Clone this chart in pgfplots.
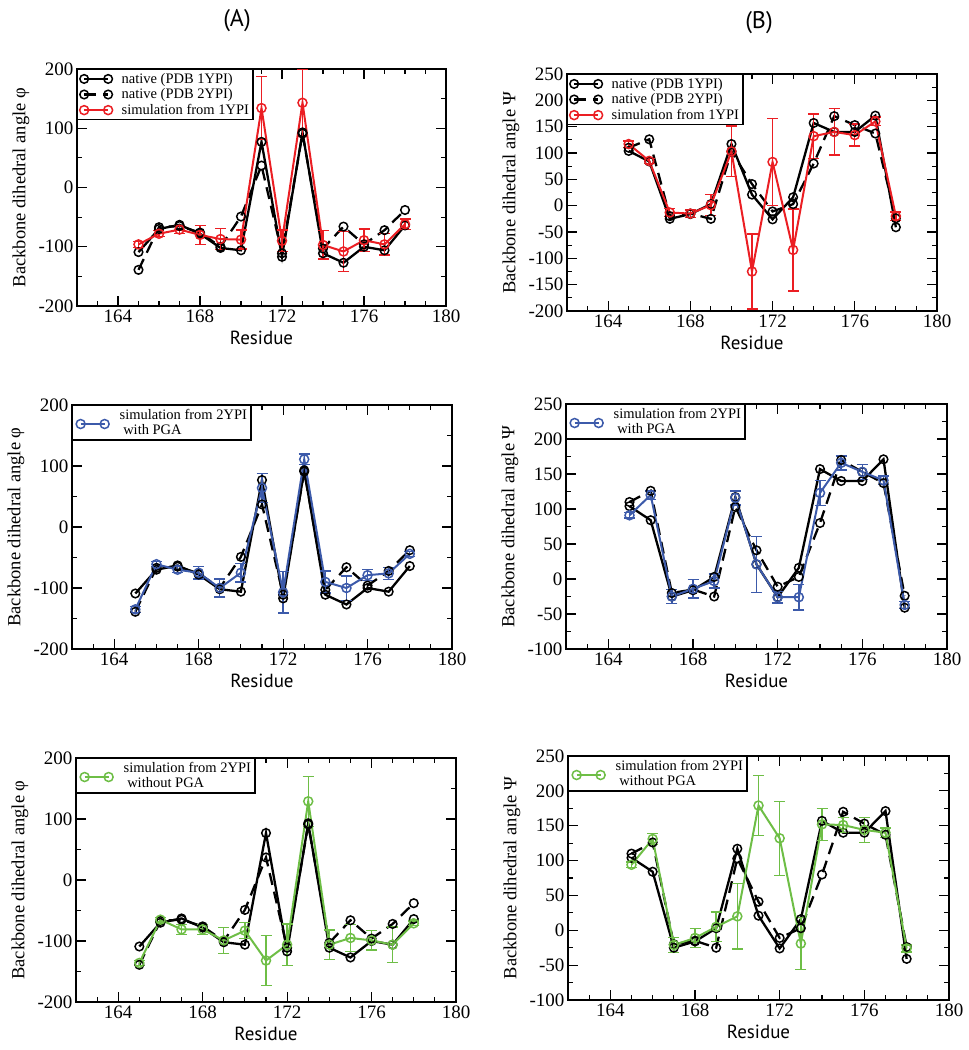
\documentclass[border=0pt]{standalone}
\usepackage{fontspec}
\setmainfont{Liberation Serif}
\newfontfamily\sansf{PT Sans}
\usepackage{pgfplots}
\usepackage{pgfplotstable}
\pgfplotsset{compat=1.18}

\definecolor{simred}{RGB}{235,30,35}
\definecolor{simblue}{RGB}{60,90,170}
\definecolor{simgreen}{RGB}{110,190,70}

% native structures
\pgfplotstableread{
x    phi   psi
165  -109  104
166  -70   84
167  -63   -25
168  -78   -16
169  -102  3
170  -106  117
171  77    21
172  -117  -26
173  93    16
174  -111  157
175  -127  140
176  -100  140
177  -106  171
178  -64   -41
}\natA
\pgfplotstableread{
x    phi   psi
165  -139  110
166  -67   126
167  -65   -20
168  -76   -15
169  -100  -25
170  -49   103
171  37    41
172  -111  -11
173  91    3
174  -103  80
175  -66   170
176  -96   153
177  -72   137
178  -38   -24
}\natB
% simulation from 1YPI
\pgfplotstableread{
x    phi   ephi  psi   epsi
165  -96   5     117   6
166  -78   5     85    5
167  -71   7     -13   8
168  -80   16    -15   7
169  -87   18    1     20
170  -88   16    103   48
171  134   53    -125  71
172  -90   18    83    83
173  143   57    -84   78
174  -97   24    132   42
175  -108  34    140   44
176  -89   19    134   21
177  -96   18    160   8
178  -62   9     -20   8
}\simA
% simulation from 2YPI with PGA
\pgfplotstableread{
x    phi   ephi  psi   epsi
165  -135  5     91    4
166  -61   4     120   6
167  -70   5     -25   10
168  -75   10    -14   13
169  -100  15    -3    10
170  -75   15    116   10
171  64    24    21    40
172  -107  34    -26   8
173  111   9     -26   18
174  -90   18    123   18
175  -100  20    166   10
176  -79   9     153   11
177  -76   10    141   6
178  -44   4     -37   5
}\simB
% simulation from 2YPI without PGA
\pgfplotstableread{
x    phi   ephi  psi   epsi
165  -136  4     94    4
166  -65   4     131   8
167  -81   8     -21   11
168  -81   8     -11   14
169  -99   21    5     21
170  -83   13    20    47
171  -132  41    179   43
172  -106  34    132   53
173  129   41    -19   37
174  -106  24    152   23
175  -95   22    151   11
176  -99   16    144   18
177  -106  29    140   7
178  -71   4     -26   5
}\simC

\pgfplotsset{
  panel/.style={
    scale only axis,
    xmin=162, xmax=180,
    xtick={164,168,...,180},
    minor xtick={162,...,180},
    tick align=inside,
    major tick length=10pt,
    minor tick length=5pt,
    axis line style={line width=1.4pt},
    every tick/.style={black, line width=1.2pt},
    /pgf/number format/assume math mode=true,
    ticklabel style={font=\fontsize{19}{21}\selectfont},
    xlabel={Residue},
    every axis x label/.style={at={(axis description cs:0.5,0)}, yshift=-32pt, anchor=center,
      font=\sansf\fontsize{19}{21}\selectfont},
    every axis y label/.style={at={(axis description cs:0,0.5)}, xshift=-56pt, rotate=90, anchor=center,
      font=\fontsize{18.5}{20}\selectfont},
    legend style={at={(0,1)}, anchor=north west, draw=black, line width=1.3pt, fill=white,
      font=\fontsize{14.5}{16}\selectfont, inner xsep=2pt, inner ysep=2pt, row sep=1pt,
      nodes={inner ysep=1.5pt},
      /tikz/every odd column/.append style={column sep=7pt}},
    legend cell align=left,
    legend image code/.code={\draw[##1] plot coordinates {(2pt,0pt) (26pt,0pt)};},
  },
  % sample centred between the two text lines
  tworow/.style={
    legend image code/.code={\path (-3pt,0pt) (31pt,0pt);
      \draw[##1, overlay, yshift=-9pt] plot coordinates {(2pt,0pt) (26pt,0pt)};}},
  phipanel/.style={panel, ymin=-200, ymax=200, ytick={-200,-100,...,200}, minor ytick={-200,-150,...,200},
    ylabel={Backbone dihedral angle φ}},
  psipanel/.style={panel, ytick={-200,-150,...,250}, minor ytick={-200,-175,...,250},
    ylabel={Backbone dihedral angle Ψ}},
  nat1/.style={black, line width=2.3pt, mark=o, mark size=4.3pt, mark options={solid, line width=1.5pt}},
  nat2/.style={nat1, dash pattern=on 12pt off 7pt},
  sim/.style={line width=2pt, mark=o, mark size=4.5pt, mark options={solid, line width=1.5pt},
    error bars/.cd, y dir=both, y explicit,
    error bar style={line width=1.4pt, solid},
    error mark options={rotate=90, mark size=5.5pt, line width=1.4pt}},
}

\begin{document}
\begin{tikzpicture}
\path[use as bounding box] (0pt,0pt) rectangle (969pt,-1050pt);

\node[font=\sansf\fontsize{24}{28}\selectfont] at (237pt,-21pt) {(A)};
\node[font=\sansf\fontsize{24}{28}\selectfont] at (759pt,-23pt) {(B)};

% ---- row 1, phi
\begin{axis}[phipanel, at={(77pt,-306pt)}, anchor=south west, width=369pt, height=237pt]
  \addplot[nat1] table[x=x, y=phi] {\natA};
  \addlegendentry{native (PDB 1YPI)}
  \addplot[nat2] table[x=x, y=phi] {\natB};
  \addlegendentry{native (PDB 2YPI)}
  \addplot[simred, sim] table[x=x, y=phi, y error=ephi] {\simA};
  \addlegendentry{simulation from 1YPI}
\end{axis}

% ---- row 1, psi
\begin{axis}[psipanel, ymin=-200, ymax=250, at={(567pt,-311pt)}, anchor=south west, width=370pt, height=237pt]
  \addplot[nat1] table[x=x, y=psi] {\natA};
  \addlegendentry{native (PDB 1YPI)}
  \addplot[nat2] table[x=x, y=psi] {\natB};
  \addlegendentry{native (PDB 2YPI)}
  \addplot[simred, sim] table[x=x, y=psi, y error=epsi] {\simA};
  \addlegendentry{simulation from 1YPI}
\end{axis}

% ---- row 2, phi
\begin{axis}[phipanel, tworow, at={(72pt,-649pt)}, anchor=south west, width=380pt, height=244pt]
  \addplot[nat1, forget plot] table[x=x, y=phi] {\natA};
  \addplot[nat2, forget plot] table[x=x, y=phi] {\natB};
  \addplot[simblue, sim] table[x=x, y=phi, y error=ephi] {\simB};
  \addlegendentry{simulation from 2YPI}
  \addlegendimage{empty legend}
  \addlegendentry{\ with PGA}
\end{axis}

% ---- row 2, psi
\begin{axis}[psipanel, tworow, ymin=-100, ymax=250, at={(566pt,-649pt)}, anchor=south west, width=381pt, height=245pt]
  \addplot[nat1, forget plot] table[x=x, y=psi] {\natA};
  \addplot[nat2, forget plot] table[x=x, y=psi] {\natB};
  \addplot[simblue, sim] table[x=x, y=psi, y error=epsi] {\simB};
  \addlegendentry{simulation from 2YPI}
  \addlegendimage{empty legend}
  \addlegendentry{\ with PGA}
\end{axis}

% ---- row 3, phi
\begin{axis}[phipanel, tworow, at={(76pt,-1002pt)}, anchor=south west, width=380pt, height=244pt]
  \addplot[nat1, forget plot] table[x=x, y=phi] {\natA};
  \addplot[nat2, forget plot] table[x=x, y=phi] {\natB};
  \addplot[simgreen, sim] table[x=x, y=phi, y error=ephi] {\simC};
  \addlegendentry{simulation from 2YPI}
  \addlegendimage{empty legend}
  \addlegendentry{\ without PGA}
\end{axis}

% ---- row 3, psi
\begin{axis}[psipanel, tworow, ymin=-100, ymax=250, at={(568pt,-1000pt)}, anchor=south west, width=381pt, height=244pt]
  \addplot[nat1, forget plot] table[x=x, y=psi] {\natA};
  \addplot[nat2, forget plot] table[x=x, y=psi] {\natB};
  \addplot[simgreen, sim] table[x=x, y=psi, y error=epsi] {\simC};
  \addlegendentry{simulation from 2YPI}
  \addlegendimage{empty legend}
  \addlegendentry{\ without PGA}
\end{axis}
\end{tikzpicture}
\end{document}
